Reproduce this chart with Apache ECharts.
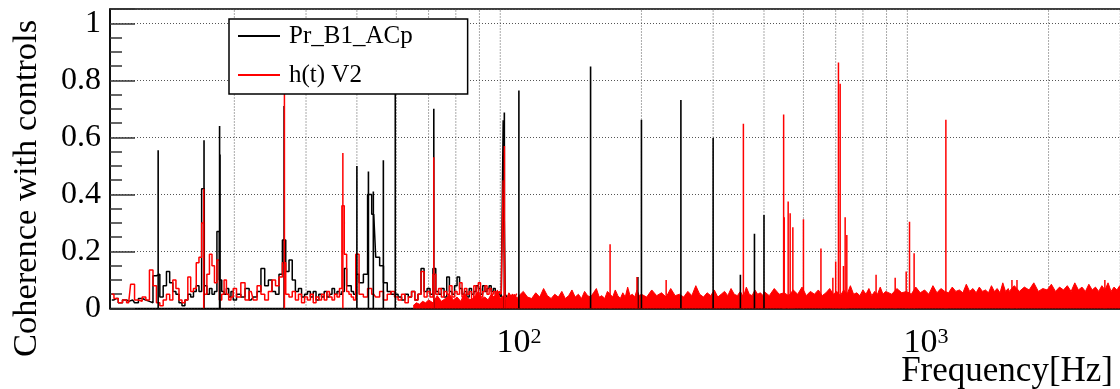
<!DOCTYPE html>
<html><head><meta charset="utf-8">
<script src="https://cdn.jsdelivr.net/npm/echarts@6/dist/echarts.min.js"></script>
<style>html,body{margin:0;padding:0;background:#fff}#c{width:1120px;height:389px}</style>
</head><body><div id="c"></div>
<script>
// ---- data ----
const binFreq = [10,10.25,10.5,10.75,11,11.25,11.5,11.75,12,12.25,12.5,12.75,13,13.25,13.5,13.75,14,14.25,14.5,14.75,15,15.25,15.5,15.75,16,16.25,16.5,16.75,17,17.25,17.5,17.75,18,18.25,18.5,18.75,19,19.25,19.5,19.75,
  20,20.5,21,21.5,22,22.5,23,23.5,24,24.5,25,25.5,26,26.5,27,27.5,28,28.5,29,29.5,30,30.5,31,31.5,32,32.5,33,33.5,34,34.5,35,35.5,36,36.5,37,37.5,38,38.5,39,39.5,
  40,41,42,43,44,45,46,47,48,49,50,51,52,53,54,55,56,57,58,59,60,61,62,63,64,65,66,67,68,69,70,71,72,73,74,75,76,77,78,79,80,81,82,83,84,85,86,87,88,89,90,91,92,93,94,95,96,97,98,99];
const blackVal = [0.03,0.035,0.02,0.03,0.025,0.03,0.02,0.035,0.03,0.025,0.02,0.115,0.12,0.04,0.08,0.13,0.09,0.06,0.05,0.02,0.01,0.03,0.05,0.04,0.06,0.08,0.06,0.42,0.08,0.05,0.07,0.05,0.06,0.27,0.1,0.06,0.05,0.07,0.04,0.06,
  0.03,0.05,0.04,0.07,0.03,0.04,0.06,0.14,0.08,0.1,0.06,0.05,0.12,0.24,0.13,0.17,0.1,0.06,0.07,0.04,0.05,0.06,0.04,0.06,0.03,0.05,0.04,0.06,0.04,0.05,0.07,0.05,0.06,0.05,0.06,0.14,0.08,0.08,0.06,0.05,
  0.12,0.09,0.12,0.4,0.33,0.18,0.15,0.09,0.06,0.05,0.05,0.04,0.03,0.05,0.04,0.06,0.03,0.05,0.14,0.06,0.07,0.05,0.14,0.06,0.05,0.07,0.04,0.11,0.06,0.05,0.08,0.11,0.07,0.05,0.06,0.04,0.07,0.05,0.06,0.08,0.07,0.05,0.08,0.06,0.07,0.08,0.06,0.07,0.05,0.06,0.05,0.04,0.66,0.05,0.04,0.03,0.04,0.03,0.04,0.03];
const redVal = [0.05,0.035,0.02,0.03,0.02,0.085,0.03,0.025,0.04,0.03,0.135,0.08,0.02,0.01,0.03,0.05,0.03,0.1,0.07,0.03,0.02,0.03,0.11,0.06,0.07,0.16,0.18,0.3,0.05,0.12,0.19,0.15,0.09,0.17,0.03,0.05,0.1,0.05,0.03,0.04,
  0.07,0.04,0.09,0.03,0.06,0.03,0.08,0.05,0.03,0.06,0.1,0.08,0.11,0.16,0.05,0.04,0.06,0.03,0.05,0.02,0.04,0.03,0.05,0.02,0.04,0.03,0.05,0.03,0.06,0.04,0.03,0.05,0.04,0.07,0.36,0.19,0.06,0.05,0.04,0.03,
  0.19,0.05,0.04,0.07,0.05,0.04,0.06,0.03,0.05,0.06,0.04,0.03,0.05,0.02,0.04,0.06,0.03,0.05,0.13,0.04,0.06,0.04,0.12,0.05,0.07,0.04,0.06,0.05,0.08,0.04,0.06,0.05,0.09,0.04,0.07,0.05,0.06,0.03,0.08,0.05,0.09,0.04,0.06,0.08,0.05,0.07,0.05,0.06,0.04,0.05,0.06,0.05,0.45,0.04,0.03,0.05,0.04,0.05,0.03,0.05];
const floorFreq = [55,56,57,58,59,
  60,61.5,63,64.5,66,67.5,69,70.5,72,73.5,75,76.5,78,79.5,81,82.5,84,85.5,87,88.5,90,91.5,93,94.5,96,97.5,99,
  100,102.5,105,107.5,110,112.5,115,117.5,120,122.5,125,127.5,130,132.5,135,137.5,140,142.5,145,147.5,150,152.5,155,157.5,160,162.5,165,167.5,170,172.5,175,177.5,180,182.5,185,187.5,190,192.5,195,197.5,
  200,206,212,218,224,230,236,242,248,254,260,266,272,278,284,290,296,302,308,314,320,326,332,338,344,350,356,362,368,374,380,386,392,398,
  400,412,424,436,448,460,472,484,496,508,520,532,544,556,568,580,592,604,616,628,640,652,664,676,688,700,712,724,736,748,760,772,784,796,
  800,824,848,872,896,920,944,968,992,1016,1040,1064,1088,1112,1136,1160,1184,1208,1232,1256,1280,1304,1328,1352,1376,1400,1424,1448,1472,1496,1520,1544,1568,1592,
  1600,1648,1696,1744,1792,1840,1888,1936,1984,2032,2080,2128,2176,2224,2272,2320,2368,2416,2464,2512,2560,2608,2656,2704,2752,2800,2848,2896,2944,2992,3030];
const floorVal = [0.01,0.02,0.015,0.025,0.02,
  0.03,0.02,0.045,0.025,0.035,0.05,0.03,0.04,0.025,0.055,0.035,0.03,0.045,0.06,0.035,0.04,0.03,0.05,0.04,0.065,0.035,0.045,0.03,0.055,0.04,0.05,0.035,
  0.045,0.06,0.04,0.035,0.055,0.04,0.07,0.045,0.035,0.05,0.04,0.06,0.035,0.045,0.065,0.04,0.05,0.035,0.06,0.045,0.04,0.055,0.07,0.04,0.045,0.035,0.06,0.05,0.04,0.065,0.045,0.035,0.055,0.04,0.075,0.045,0.05,0.04,0.065,0.045,
  0.05,0.04,0.065,0.045,0.055,0.04,0.07,0.045,0.05,0.04,0.06,0.045,0.08,0.05,0.04,0.055,0.045,0.065,0.04,0.05,0.06,0.045,0.07,0.05,0.045,0.06,0.04,0.075,0.05,0.045,0.065,0.05,0.055,0.045,
  0.06,0.045,0.07,0.05,0.055,0.045,0.065,0.05,0.075,0.045,0.06,0.05,0.065,0.045,0.055,0.07,0.05,0.06,0.045,0.065,0.05,0.08,0.05,0.055,0.045,0.065,0.05,0.07,0.045,0.06,0.05,0.075,0.05,0.06,
  0.065,0.05,0.07,0.055,0.06,0.05,0.075,0.055,0.065,0.05,0.08,0.055,0.07,0.06,0.055,0.075,0.06,0.065,0.055,0.085,0.06,0.07,0.055,0.075,0.06,0.065,0.055,0.08,0.06,0.07,0.055,0.09,0.06,0.07,
  0.06,0.08,0.06,0.075,0.065,0.09,0.06,0.07,0.065,0.085,0.06,0.075,0.065,0.08,0.06,0.09,0.065,0.075,0.06,0.085,0.065,0.075,0.06,0.08,0.065,0.09,0.06,0.075,0.065,0.08,0.07];
const blackSpikeFreq = [13.0,16.85,18.4,18.44,26.5,40.0,42.7,43.9,46.46,49.7,61.8,92.1,100,150,196,200,250,300,350,379,400];
const blackSpikeVal  = [0.555,0.59,0.64,0.54,0.71,0.50,0.48,0.41,0.52,0.95,0.70,0.687,0.764,0.848,0.11,0.662,0.731,0.598,0.118,0.262,0.328];
const redSpikeFreq = [16.82,26.55,36.95,61.8,92.15,167.5,195,230,356,447,448.5,458.6,463.8,470.9,500,552,590.5,600,609.5,615.4,627,633,639,754,840,894,911,935,1119,1626,1673,2750];
const redSpikeVal  = [0.42,0.76,0.545,0.53,0.57,0.225,0.11,0.1,0.648,0.68,0.32,0.375,0.334,0.285,0.313,0.21,0.108,0.165,0.862,0.788,0.149,0.32,0.258,0.118,0.108,0.13,0.304,0.194,0.662,0.1,0.1,0.1];
const gridFreqs = [20,30,40,50,60,70,80,90,200,300,400,500,600,700,800,900,2000,3000];
const yTickValues = [0,0.2,0.4,0.6,0.8,1];
const seriesNames = ['Pr_B1_ACp','h(t) V2'];
const xAxisTitle = 'Frequency[Hz]';
const yAxisTitle = 'Coherence with controls';

// ---- chart ----
const SERIF = 'Liberation Serif';
const zip = (a, b) => a.map((v, i) => [v, b[i]]);
function vline(color, width, dash, top) {
  return function (params, api) {
    const f = api.value(0);
    const p0 = api.coord([f, 0]);
    const p1 = api.coord([f, top == null ? api.value(1) : top]);
    return {type: 'line', shape: {x1: p0[0], y1: p0[1], x2: p1[0], y2: p1[1]},
      style: {stroke: color, lineWidth: width, lineDash: dash}};
  };
}
const chart = echarts.init(document.getElementById('c'), null, {renderer: 'canvas'});
chart.setOption({
  animation: false,
  backgroundColor: '#fff',
  textStyle: {fontFamily: SERIF},
  grid: {left: 110, right: -2, top: 9, bottom: 80.5, show: true, borderColor: '#000', borderWidth: 1.5,
    backgroundColor: 'transparent', containLabel: false, outerBoundsMode: 'none'},
  xAxis: {
    type: 'log', logBase: 10, min: 9.9, max: 3030,
    axisLine: {show: true, lineStyle: {color: '#000', width: 1.5}},
    axisTick: {show: false}, splitLine: {show: false}, minorTick: {show: false},
    axisLabel: {
      margin: 18, color: '#000', fontFamily: SERIF,
      formatter: function (v) {
        const e = Math.round(Math.log10(v));
        if (e < 2 || Math.abs(v / Math.pow(10, e) - 1) > 1e-6) return '';
        return '{b|10}{s|' + e + '}';
      },
      rich: {
        b: {fontFamily: SERIF, fontSize: 34, lineHeight: 34, color: '#000'},
        s: {fontFamily: SERIF, fontSize: 22, lineHeight: 6, verticalAlign: 'top', color: '#000'}
      }
    }
  },
  yAxis: [{
    type: 'value', min: 0, max: 1.05, interval: 0.2,
    axisLine: {show: true, lineStyle: {color: '#000', width: 1.5}},
    axisTick: {show: true, inside: true, length: 25, lineStyle: {color: '#333', width: 1.5}},
    splitLine: {show: true, lineStyle: {color: '#555', width: 1, type: [1, 2]}},
    axisLabel: {margin: 9, color: '#000', fontFamily: SERIF, fontSize: 32,
      formatter: v => yTickValues.some(t => Math.abs(t - v) < 1e-9) ? '{n|' + (+v.toFixed(1)) + '}' : '',
      rich: {n: {fontFamily: SERIF, fontSize: 32, color: '#000'}}}
  }, {
    type: 'value', min: 0, max: 1.05, interval: 0.05, position: 'left',
    axisLine: {show: false}, axisLabel: {show: false}, splitLine: {show: false},
    axisTick: {show: true, inside: true, length: 12, lineStyle: {color: '#333', width: 1.5}}
  }],
  legend: {
    left: 229, top: 19, orient: 'vertical', data: seriesNames, z: 50,
    icon: 'rect', itemWidth: 42, itemHeight: 2, itemGap: 11,
    padding: [3, 55, 5, 9],
    backgroundColor: '#fff', borderColor: '#000', borderWidth: 1.5,
    textStyle: {fontFamily: SERIF, fontSize: 25, color: '#000', lineHeight: 28, padding: [0, 0, 0, 4]},
    selectedMode: false
  },
  graphic: [
    {type: 'text', x: 26.5, y: 188.5, rotation: Math.PI / 2, z: 100,
      style: {text: yAxisTitle, font: '34.5px "Liberation Serif"', fill: '#000', align: 'center', verticalAlign: 'middle'}},
    {type: 'text', x: 1113, y: 371.7, z: 100,
      style: {text: xAxisTitle, font: '35px "Liberation Serif"', fill: '#000', align: 'right', verticalAlign: 'middle'}}
  ],
  series: [
    {name: seriesNames[0], type: 'line', data: zip(binFreq, blackVal), step: 'middle', symbol: 'none',
      lineStyle: {color: '#000', width: 1.5}, itemStyle: {color: '#000'}, z: 2, silent: true},
    {name: seriesNames[1], type: 'line', data: zip(binFreq, redVal), step: 'middle', symbol: 'none',
      lineStyle: {color: '#ff0000', width: 1.5}, itemStyle: {color: '#ff0000'}, z: 3, silent: true},
    {name: seriesNames[1], type: 'line', data: zip(floorFreq, floorVal), symbol: 'none',
      lineStyle: {color: '#ff0000', width: 1}, itemStyle: {color: '#ff0000'},
      areaStyle: {color: '#ff0000', opacity: 1}, z: 3, silent: true},
    {name: 'grid', type: 'custom', data: gridFreqs.map(f => [f, 1.05]), encode: {x: 0, y: 1},
      renderItem: vline('#555', 1, [1, 2], 1.05), z: 0, silent: true, clip: true},
    {name: seriesNames[0], type: 'custom', data: zip(blackSpikeFreq, blackSpikeVal), encode: {x: 0, y: 1},
      renderItem: vline('#000', 1.6, null), z: 4, silent: true, clip: true, itemStyle: {color: '#000'}},
    {name: seriesNames[1], type: 'custom', data: zip(redSpikeFreq, redSpikeVal), encode: {x: 0, y: 1},
      renderItem: vline('#ff0000', 1.5, null), z: 5, silent: true, clip: true, itemStyle: {color: '#ff0000'}}
  ]
});
</script></body></html>
